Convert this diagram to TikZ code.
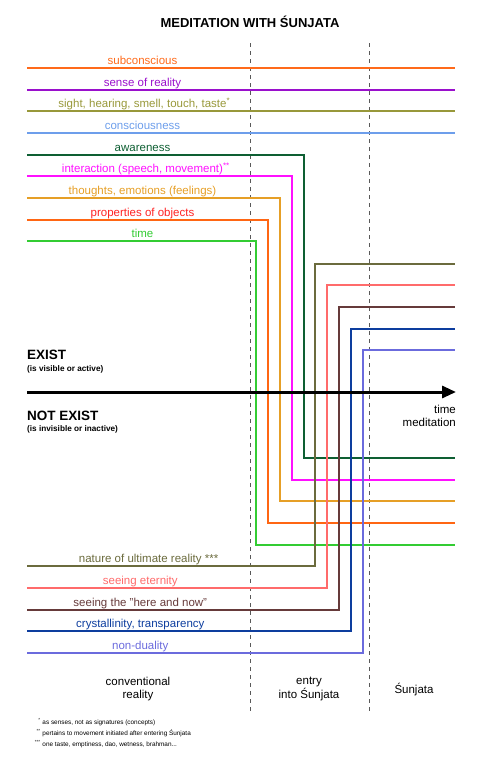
\documentclass[tikz,border=0pt]{standalone}
\usepackage{fontspec}
\setmainfont{Liberation Sans}
\usepackage{xcolor}
\definecolor{pumpkin}{HTML}{FF6A1A}
\definecolor{grape}{HTML}{9A10CC}
\definecolor{olivine}{HTML}{98983A}
\definecolor{cornflower}{HTML}{6D9EEB}
\definecolor{forest}{HTML}{0E5F33}
\definecolor{fuchsia}{HTML}{FF10FF}
\definecolor{amber}{HTML}{E69F26}
\definecolor{ember}{HTML}{FF6613}
\definecolor{scarlet}{HTML}{FF2222}
\definecolor{lime}{HTML}{33CC33}
\definecolor{moss}{HTML}{6B6B3D}
\definecolor{salmon}{HTML}{FF6B6B}
\definecolor{umber}{HTML}{663A3A}
\definecolor{cobalt}{HTML}{0D3D9E}
\definecolor{periwinkle}{HTML}{6B6BDD}
\usepackage{tikz}
\usetikzlibrary{positioning,arrows.meta}
\tikzset{
  lbl/.style={anchor=base, inner sep=0pt, font=\fontsize{11.5}{13}\selectfont},
  flow/.style={line width=2pt, line join=miter},
  divider/.style={draw=black!65, line width=1pt, dash pattern=on 4pt off 4pt},
  axis/.style={-{Triangle[length=14pt,width=12pt]}, line width=3pt},
  state/.style={anchor=west, inner sep=0pt, font=\fontsize{13.5}{15}\selectfont\bfseries},
  gloss/.style={inner sep=0pt, font=\fontsize{8.2}{9}\selectfont\bfseries},
  zone/.style={align=center, inner sep=0pt, font=\fontsize{11.5}{12.5}\selectfont},
  fnote/.style={anchor=base west, inner sep=0pt, font=\fontsize{6.4}{7}\selectfont},
}

\begin{document}
\begin{tikzpicture}[x=1pt, y=-1pt]
  \useasboundingbox (0,0) rectangle (482,763);
  \node[inner sep=0pt, font=\fontsize{13}{15}\selectfont\bfseries] (title) at (250,22) {MEDITATION WITH ŚUNJATA};

  % zone dividers
  \draw[divider] (250,43) -- (250,712);
  \draw[divider] (369,43) -- (369,712);

  % always present
  \draw[flow, pumpkin] (27,68) -- (455,68);
  \draw[flow, grape] (27,89.7) -- (455,89.7);
  \draw[flow, olivine] (27,111.3) -- (455,111.3);
  \draw[flow, cornflower] (27,133) -- (455,133);
  \node[lbl, text=pumpkin] (subc) at (142.5,64.5) {subconscious};
  \node[lbl, text=grape] (real) at (142.5,86.2) {sense of reality};
  \node[lbl, text=olivine] (sens) at (142.5,107.8) {sight, hearing, smell, touch, taste\rlap{\textsuperscript{*}}};
  \node[lbl, text=cornflower] (cons) at (142.5,129.5) {consciousness};

  % fading on entry
  \draw[flow, forest] (27,154.7) -| (303.5,458) -- (455,458);
  \draw[flow, fuchsia] (27,176.3) -| (292,479.7) -- (455,479.7);
  \draw[flow, amber] (27,198) -| (280,501.3) -- (455,501.3);
  \draw[flow, ember] (27,219.7) -| (268,523) -- (455,523);
  \draw[flow, lime] (27,241.3) -| (256,544.7) -- (455,544.7);
  \node[lbl, text=forest] (awar) at (142.5,151.2) {awareness};
  \node[lbl, text=fuchsia] (inter) at (142.5,172.8) {interaction (speech, movement)\rlap{\textsuperscript{**}}};
  \node[lbl, text=amber] (thou) at (142.5,194.5) {thoughts, emotions (feelings)};
  \node[lbl, text=scarlet] (prop) at (142.5,216.2) {properties of objects};
  \node[lbl, text=lime] (time) at (142.5,237.8) {time};

  % rising on entry
  \draw[flow, moss] (27,566.3) -| (315,263.7) -- (455,263.7);
  \draw[flow, salmon] (27,588) -| (327,285.3) -- (455,285.3);
  \draw[flow, umber] (27,609.7) -| (339,307) -- (455,307);
  \draw[flow, cobalt] (27,631.3) -| (351,328.7) -- (455,328.7);
  \draw[flow, periwinkle] (27,653) -| (362.7,350.3) -- (455,350.3);
  \node[lbl, text=moss] (ultim) at (140.3,562.8) {nature of ultimate reality\rlap{ ***}};
  \node[lbl, text=salmon] (etern) at (140.3,584.5) {seeing eternity};
  \node[lbl, text=umber] (here) at (140.3,606.2) {seeing the "here and now"};
  \node[lbl, text=cobalt] (cryst) at (140.3,627.8) {crystallinity, transparency};
  \node[lbl, text=periwinkle] (nond) at (140.3,649.5) {non-duality};

  % axis
  \coordinate (ax0) at (27,392);
  \coordinate (ax1) at (456,392);
  \draw[axis] (ax0) -- (ax1);
  \node[state] (exist) at (27,355) {EXIST};
  \node[gloss, below=5pt of exist.south west, anchor=north west] (existg) {(is visible or active)};
  \node[state] (nexist) at (27,415.5) {NOT EXIST};
  \node[gloss, below=5pt of nexist.south west, anchor=north west] (nexistg) {(is invisible or inactive)};
  \node[zone, align=right, anchor=north east] (axlbl) at (456,405) {time\\meditation};

  % zones
  \node[zone] (conv) at (138,689) {conventional\\reality};
  \node[zone] (entry) at (309,689) {entry\\into Śunjata};
  \node[zone] (sunj) at (414,690) {Śunjata};

  % footnotes
  \node[fnote] (fn1) at (40.5,724.5) {\llap{\textsuperscript{*}}\ as senses, not as signatures (concepts)};
  \node[fnote] (fn2) at (40.5,735.5) {\llap{\textsuperscript{**}}\ pertains to movement initiated after entering Śunjata};
  \node[fnote] (fn3) at (40.5,746.5) {\llap{\textsuperscript{***}}\ one taste, emptiness, dao, wetness, brahman...};
\end{tikzpicture}
\end{document}
